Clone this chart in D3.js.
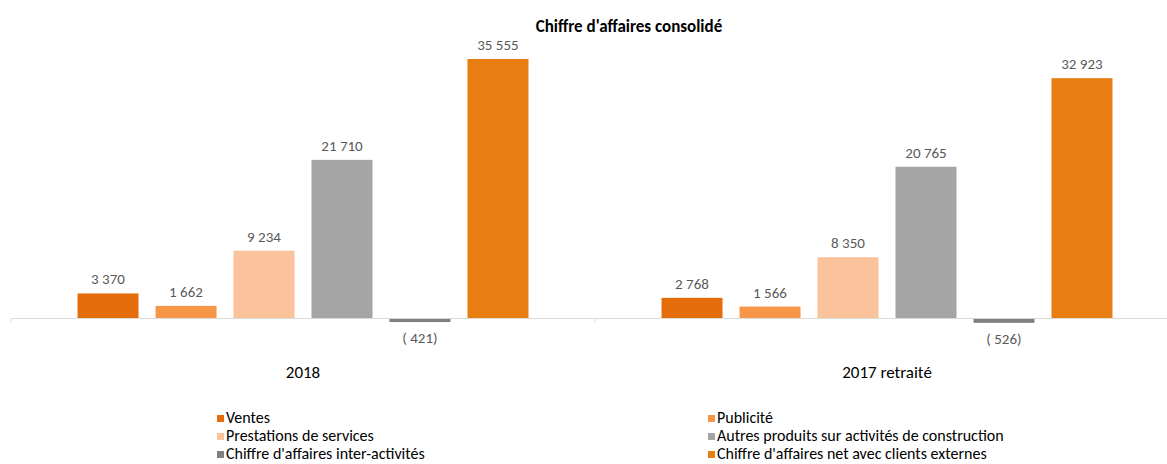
<!DOCTYPE html>
<html>
<head>
<meta charset="utf-8">
<script src="https://cdn.jsdelivr.net/npm/d3@7"></script>
<style>
  body { margin: 0; background: #fff; }
  svg { font-family: Carlito, "Liberation Sans Narrow", "Open Sans", sans-serif; }
</style>
</head>
<body>
<div id="chart"></div>
<script>
// categories and series
const years = ["2018", "2017 retraité"];
const seriesNames = [
  "Ventes",
  "Publicité",
  "Prestations de services",
  "Autres produits sur activités de construction",
  "Chiffre d'affaires inter-activités",
  "Chiffre d'affaires net avec clients externes"
];
const values2018 = [3370, 1662, 9234, 21710, -421, 35555];
const values2017 = [2768, 1566, 8350, 20765, -526, 32923];
const colors = ["#E46C0A", "#F79646", "#FAC39B", "#A5A5A5", "#7F7F7F", "#E87D11"];

const allValues = [values2018, values2017];

const width = 1167, height = 464;

const svg = d3.select("#chart").append("svg")
    .attr("width", width)
    .attr("height", height);

// title
svg.append("text")
    .attr("x", 629)
    .attr("y", 32)
    .attr("text-anchor", "middle")
    .style("font-weight", "bold")
    .style("font-size", "17px")
    .attr("fill", "#000")
    .text("Chiffre d'affaires consolidé");

// scales
const x0 = d3.scaleBand()
    .domain(years)
    .range([11, 1179])
    .paddingInner(0)
    .paddingOuter(0);

const x1 = d3.scaleBand()
    .domain(seriesNames)
    .range([0, x0.bandwidth()])
    .paddingInner(0.218)
    .paddingOuter(0.853);

const y = d3.scaleLinear()
    .domain([0, 35555])
    .range([318, 59]);

// bars
const groups = svg.selectAll(".grp")
    .data(years.map((yr, i) => ({year: yr, vals: allValues[i]})))
    .enter().append("g")
    .attr("class", "grp")
    .attr("transform", d => "translate(" + x0(d.year) + ",0)");

groups.selectAll("rect")
    .data(d => d.vals.map((v, j) => ({name: seriesNames[j], value: v, color: colors[j]})))
    .enter().append("rect")
    .attr("x", d => x1(d.name))
    .attr("width", x1.bandwidth())
    .attr("y", d => d.value >= 0 ? y(d.value) : y(0) + 1)
    .attr("height", d => Math.max(1, Math.abs(y(d.value) - y(0))))
    .attr("fill", d => d.color);

const fmt = v => d3.format(",")(Math.abs(v)).replace(/,/g, " ");

groups.selectAll(".lbl")
    .data(d => d.vals.map((v, j) => ({name: seriesNames[j], value: v})))
    .enter().append("text")
    .attr("class", "lbl")
    .attr("x", d => x1(d.name) + x1.bandwidth() / 2)
    .attr("y", d => d.value >= 0 ? y(d.value) - 9 : y(d.value) + 22)
    .attr("text-anchor", "middle")
    .style("font-size", "15px")
    .attr("fill", "#595959")
    .text(d => d.value >= 0 ? fmt(d.value) : "( " + fmt(d.value) + ")");

// axis
const xAxis = d3.axisBottom(x0).tickSize(0).tickPadding(48);
const ax = svg.append("g")
    .attr("transform", "translate(0," + y(0) + ")")
    .call(xAxis);
ax.select(".domain").attr("stroke", "#D9D9D9").attr("stroke-width", 1.2);
ax.selectAll("text")
    .style("font-size", "17px")
    .attr("fill", "#000")
    .style("font-family", "Carlito, 'Liberation Sans Narrow', 'Open Sans', sans-serif");

// boundary ticks
const bounds = [x0.range()[0]].concat(years.map(yr => x0(yr) + x0.bandwidth()));
ax.selectAll(".bnd")
    .data(bounds)
    .enter().append("line")
    .attr("x1", d => d).attr("x2", d => d)
    .attr("y1", 0).attr("y2", 5)
    .attr("stroke", "#D9D9D9");

// legend
const legX = [217, 708];
const legY = [419, 437, 455];
const legend = svg.selectAll(".leg")
    .data(seriesNames)
    .enter().append("g")
    .attr("class", "leg")
    .attr("transform", (d, i) => "translate(" + legX[i % 2] + "," + legY[Math.floor(i / 2)] + ")");

legend.append("rect")
    .attr("x", 0).attr("y", -4)
    .attr("width", 7).attr("height", 7)
    .attr("fill", (d, i) => colors[i]);

legend.append("text")
    .attr("x", 9)
    .attr("y", 4)
    .style("font-size", "16px")
    .attr("fill", "#000")
    .text(d => d);
</script>
</body>
</html>
